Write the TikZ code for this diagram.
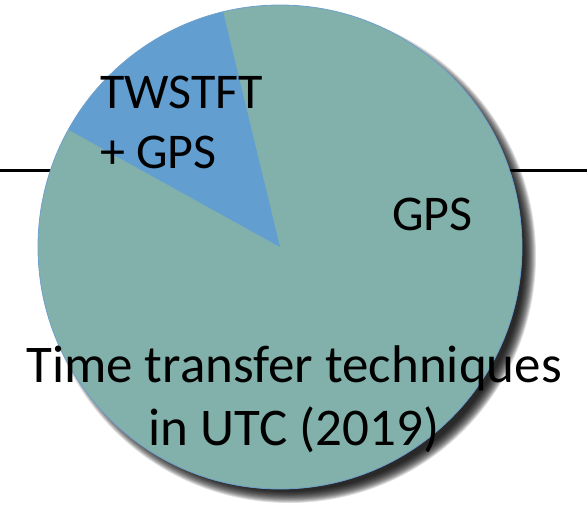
\documentclass[tikz,border=0pt]{standalone}
\usepackage{fontspec}
\setmainfont{Carlito}
\definecolor{gpsteal}{RGB}{130,177,171}
\definecolor{twblue}{RGB}{98,158,208}
\definecolor{rimblue}{RGB}{110,160,205}
\begin{document}
\begin{tikzpicture}[x=1pt,y=-1pt,
  slicelabel/.style={inner sep=0pt,anchor=base west,font=\fontsize{50}{60}\selectfont,align=left},
  titlelabel/.style={inner sep=0pt,anchor=base,font=\fontsize{53}{63}\selectfont,align=center}]
\useasboundingbox (0,0) rectangle (587,506);
% horizontal rule behind the chart
\draw[line width=3pt] (0,170) -- (587,170);
% soft drop shadow
\foreach \k in {0,...,13}
  \fill[black,opacity=0.12] (289,256) circle ({247-\k*0.9});
% pie
\coordinate (c) at (280,247);
\fill[gpsteal] (c) circle (242);
\fill[twblue] (c) -- ([shift={(c)}]-103.6:242) arc[start angle=-103.6,end angle=-151,radius=242] -- cycle;
\draw[rimblue,line width=0.8pt] (c) circle (242);
% labels
\node[slicelabel] (tw) at (100,108) {TWSTFT};
\node[slicelabel] (tg) at (100,168) {+ GPS};
\node[slicelabel] (gps) at (392,230) {GPS};
\node[titlelabel] (t1) at (294,382) {Time transfer techniques};
\node[titlelabel] (t2) at (294,445) {in UTC (2019)};
\end{tikzpicture}
\end{document}
